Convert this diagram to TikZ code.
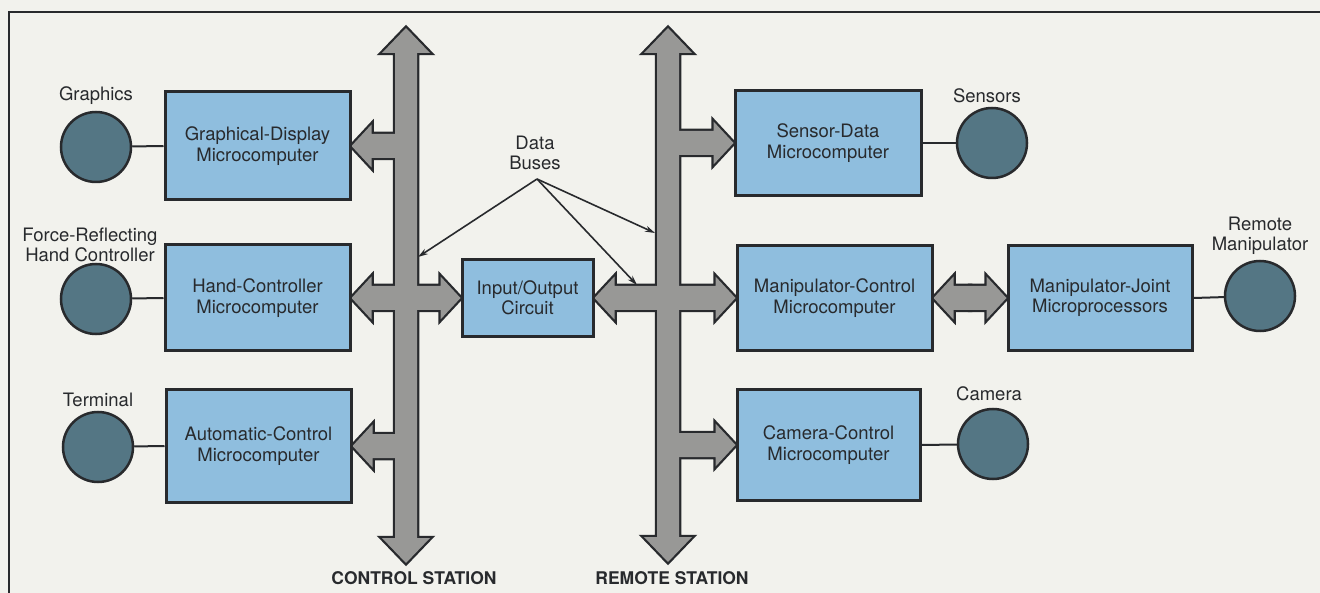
\documentclass[tikz,border=0pt]{standalone}
\usepackage{fontspec}
\setmainfont{TeX Gyre Heros}
\usetikzlibrary{calc,arrows.meta}
\definecolor{bg}{RGB}{242,242,237}
\definecolor{boxblue}{RGB}{143,190,222}
\definecolor{dev}{RGB}{84,118,132}
\definecolor{ink}{RGB}{40,42,45}
\definecolor{busgray}{RGB}{152,152,150}
\tikzset{
 box/.style={draw=ink, line width=3pt, fill=boxblue, align=center, inner sep=0pt, font=\fontsize{18.5}{20.5}\selectfont, text=ink},
 device/.style={circle, draw=ink, line width=2.5pt, fill=dev, minimum size=70pt, inner sep=0pt},
 lbl/.style={align=center, inner sep=0pt, font=\fontsize{18.5}{20.5}\selectfont, text=ink},
 station/.style={inner sep=0pt, font=\fontsize{17.5}{20}\selectfont\bfseries, text=ink},
 link/.style={draw=ink, line width=2pt},
 busedge/.style={fill=busgray, draw=ink, line width=4.5pt, line join=miter},
 busfill/.style={fill=busgray},
 pointer/.style={draw=ink, line width=1.6pt, -{Stealth[length=10pt,width=6pt]}},
}
\newcommand\hbus[3]{\path[#1] let \p1=(#2), \p2=(#3), \n1={(\x2-\x1)/abs(\x2-\x1)} in
 (\x1,\y1+12pt) -- (\x2-\n1*20pt,\y1+12pt) -- (\x2-\n1*20pt,\y1+21.5pt) -- (\x2,\y1)
 -- (\x2-\n1*20pt,\y1-21.5pt) -- (\x2-\n1*20pt,\y1-12pt) -- (\x1,\y1-12pt) -- cycle;}
\newcommand\vbus[3]{\path[#1] let \p1=(#2), \p2=(#3), \n1={(\y2-\y1)/abs(\y2-\y1)} in
 (\x1+11pt,\y1) -- (\x1+11pt,\y2-\n1*25pt) -- (\x1+24pt,\y2-\n1*25pt) -- (\x1,\y2)
 -- (\x1-24pt,\y2-\n1*25pt) -- (\x1-11pt,\y2-\n1*25pt) -- (\x1-11pt,\y1) -- cycle;}
\begin{document}
\begin{tikzpicture}[x=1pt,y=-1pt]
\useasboundingbox (0,0) rectangle (1320,593);
\clip (0,0) rectangle (1320,593);
\fill[bg] (0,0) rectangle (1320,593);
\draw[ink, line width=2.5pt] (9,12) rectangle (1345,625);

% bus reference points
\coordinate (cbT) at (406,28);
\coordinate (cbM) at (406,298);
\coordinate (cbB) at (406,563);
\coordinate (rbT) at (668,28);
\coordinate (rbM) at (668,298);
\coordinate (rbB) at (668,562);

% box positions
\path (257.5,146) coordinate (gdP) (257.5,298) coordinate (hcP) (258.5,446) coordinate (acP)
      (527.5,298) coordinate (ioP) (828,143) coordinate (sdP) (834.5,298) coordinate (mcP)
      (1100,298) coordinate (mjP) (828.5,445) coordinate (ccP);

\node[box, minimum width=185pt, minimum height=108pt] (gd) at (gdP) {Graphical-Display\\Microcomputer};
\node[box, minimum width=185pt, minimum height=106pt] (hc) at (hcP) {Hand-Controller\\Microcomputer};
\node[box, minimum width=185pt, minimum height=112pt] (ac) at (acP) {Automatic-Control\\Microcomputer};
\node[box, minimum width=131pt, minimum height=77pt] (io) at (ioP) {Input/Output\\Circuit};
\node[box, minimum width=186pt, minimum height=105pt] (sd) at (sdP) {Sensor-Data\\Microcomputer};
\node[box, minimum width=195pt, minimum height=105pt] (mc) at (mcP) {Manipulator-Control\\Microcomputer};
\node[box, minimum width=184pt, minimum height=105pt] (mj) at (mjP) {Manipulator-Joint\\Microprocessors};
\node[box, minimum width=183pt, minimum height=110pt] (cc) at (ccP) {Camera-Control\\Microcomputer};

% buses (two passes: outline, then fill)
\foreach \s in {busedge,busfill}{
  \vbus{\s}{cbM}{cbT}
  \vbus{\s}{cbM}{cbB}
  \vbus{\s}{rbM}{rbT}
  \vbus{\s}{rbM}{rbB}
  \hbus{\s}{cbM |- gd.east}{gd.east}
  \hbus{\s}{cbM}{hc.east}
  \hbus{\s}{cbM}{io.west}
  \hbus{\s}{cbM |- ac.east}{ac.east}
  \hbus{\s}{rbM |- sd.west}{sd.west}
  \hbus{\s}{rbM}{io.east}
  \hbus{\s}{rbM}{mc.west}
  \hbus{\s}{rbM |- cc.west}{cc.west}
  \hbus{\s}{$(mc.east)!.5!(mj.west)$}{mc.east}
  \hbus{\s}{$(mc.east)!.5!(mj.west)$}{mj.west}
}

% redraw boxes on top of bus tips
\node[box, minimum width=185pt, minimum height=108pt] at (gdP) {Graphical-Display\\Microcomputer};
\node[box, minimum width=185pt, minimum height=106pt] at (hcP) {Hand-Controller\\Microcomputer};
\node[box, minimum width=185pt, minimum height=112pt] at (acP) {Automatic-Control\\Microcomputer};
\node[box, minimum width=131pt, minimum height=77pt] at (ioP) {Input/Output\\Circuit};
\node[box, minimum width=186pt, minimum height=105pt] at (sdP) {Sensor-Data\\Microcomputer};
\node[box, minimum width=195pt, minimum height=105pt] at (mcP) {Manipulator-Control\\Microcomputer};
\node[box, minimum width=184pt, minimum height=105pt] at (mjP) {Manipulator-Joint\\Microprocessors};
\node[box, minimum width=183pt, minimum height=110pt] at (ccP) {Camera-Control\\Microcomputer};

% devices
\node[device] (gr) at (96,147) {};
\node[device] (fr) at (96,299) {};
\node[device] (te) at (98,447) {};
\node[device] (se) at (992,143) {};
\node[device] (rm) at (1260,296) {};
\node[device] (ca) at (993,444) {};

\draw[link] (gr) -- (gd.west);
\draw[link] (fr) -- (hc.west);
\draw[link] (te) -- (ac.west);
\draw[link] (sd.east) -- (se);
\draw[link] (mj.east) -- (rm);
\draw[link] (cc.east) -- (ca);

% device labels
\node[lbl] (grL) at (96,96) {Graphics};
\node[lbl] (frL) at (90,245) {Force-Reflecting\\Hand Controller};
\node[lbl] (teL) at (98,400) {Terminal};
\node[lbl] (seL) at (987,96) {Sensors};
\node[lbl] (rmL) at (1260,236) {Remote\\Manipulator};
\node[lbl] (caL) at (989,394) {Camera};

% data buses annotation
\node[lbl] (dbL) at (535,153) {Data\\Buses};
\coordinate (db) at (537,179);
\coordinate (dbA) at (418,257);
\coordinate (dbB) at (655,233);
\coordinate (dbC) at (637,285);
\draw[pointer] (db) -- (dbA);
\draw[pointer] (db) -- (dbB);
\draw[pointer] (db) -- (dbC);

% station labels
\node[station] (csL) at (414,578) {CONTROL STATION};
\node[station] (rsL) at (672,578) {REMOTE STATION};
\end{tikzpicture}
\end{document}
